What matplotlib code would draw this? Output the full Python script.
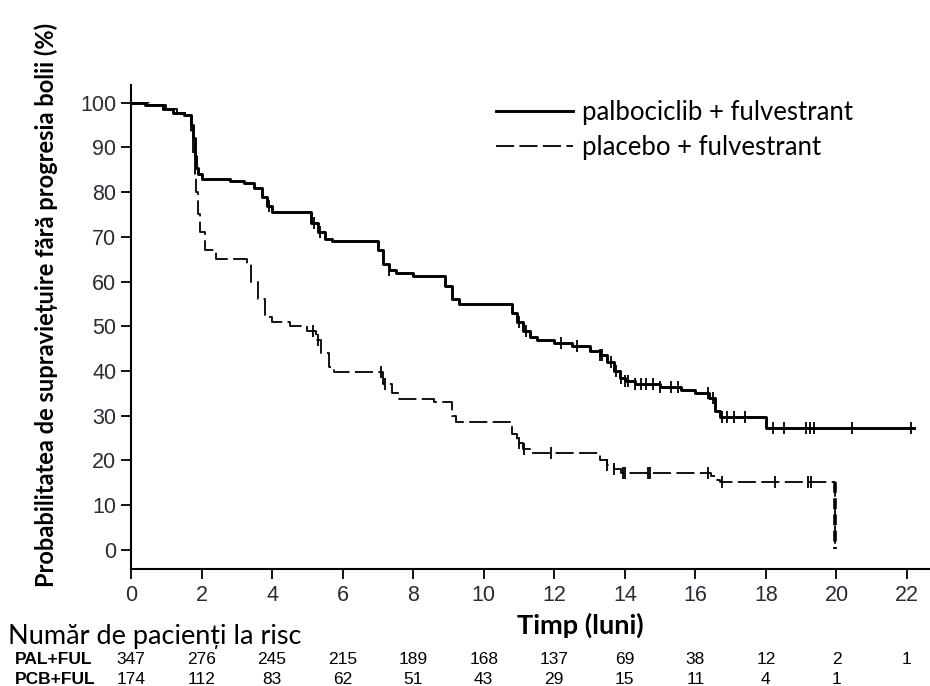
import numpy as np
import matplotlib
matplotlib.use('Agg')
import matplotlib.pyplot as plt

# Kaplan-Meier steps (months, % progression-free)
pal_t = [0, 0.4, 0.9, 1.2, 1.5, 1.7, 1.75, 1.8, 1.85, 1.9, 2.0, 2.8, 3.2, 3.5, 3.7, 3.85, 4.0,
         5.1, 5.3, 5.5, 5.7, 7.0, 7.15, 7.3, 7.5, 8.0, 8.9, 9.1, 9.3, 10.8, 10.95, 11.1, 11.3,
         11.5, 12.0, 12.5, 13.0, 13.3, 13.5, 13.7, 13.85, 14.0, 14.3, 15.0, 15.6, 16.0, 16.4,
         16.55, 16.7, 18.0, 22.2]
pal_s = [100, 99.5, 98.5, 97.8, 97.3, 95, 92, 88, 85.5, 84, 83, 82.5, 82, 81, 79, 77, 75.5,
         73, 71, 69.5, 69, 67, 64, 62.5, 62, 61.3, 59, 56, 55, 53, 51, 49, 47.5,
         47, 46.2, 45.5, 44.5, 43.5, 42, 40, 38.5, 37.8, 37.2, 36.5, 35.8, 35, 34,
         31, 29.7, 27.2, 27.2]

pcb_t = [0, 0.5, 1.0, 1.3, 1.6, 1.7, 1.75, 1.8, 1.85, 1.9, 1.95, 2.1, 2.4, 3.3, 3.4, 3.6, 3.8,
         4.0, 4.5, 5.0, 5.25, 5.4, 5.6, 5.75, 7.15, 7.4, 7.6, 8.6, 9.1, 9.2, 10.8, 10.95, 11.1,
         11.3, 13.3, 13.5, 13.7, 13.9, 16.45, 16.6, 16.7, 19.95]
pcb_s = [100, 99.5, 98.5, 97.8, 97.3, 93, 88, 84, 80, 75, 71, 67, 65, 64, 60, 56, 52,
         51, 50, 49, 47, 44, 41, 39.7, 37, 35, 33.8, 33, 30, 28.6, 26, 24, 22.5,
         21.6, 20, 19, 18, 17.3, 16.5, 15.7, 15.2, 0.3]

# censored observations
pal_cens = [3.9, 5.2, 5.35, 7.3, 11.0, 11.2, 12.2, 12.65, 13.3, 13.35, 13.6, 13.75, 13.9,
            14.0, 14.1, 14.3, 14.45, 14.6, 14.8, 15.0, 15.3, 15.5, 16.35, 16.5, 16.75, 16.9,
            17.1, 17.4, 18.2, 18.5, 19.15, 19.25, 19.35, 20.45, 22.1]
pcb_cens = [5.15, 5.3, 7.1, 7.2, 11.0, 11.15, 11.9, 13.5, 13.7, 13.95, 14.0, 14.65, 14.72,
            16.36, 16.75, 18.27, 19.2, 19.27]

risk_months = [0, 2, 4, 6, 8, 10, 12, 14, 16, 18, 20, 22]
pal_risk = [347, 276, 245, 215, 189, 168, 137, 69, 38, 12, 2, 1]
pcb_risk = [174, 112, 83, 62, 51, 43, 29, 15, 11, 4, 1, None]

txt_font = ['Lato', 'DejaVu Sans']
num_font = ['Liberation Sans', 'DejaVu Sans']


def step_at(t, s, x):
    i = np.searchsorted(t, x, side='right') - 1
    return np.array(s)[i]


fig = plt.figure(figsize=(9.3, 6.86), dpi=100)
ax = fig.add_axes([0.1409, 0.1706, 0.859, 0.7055])

ax.step(pal_t, pal_s, where='post', color='black', linewidth=2.1,
        label='palbociclib + fulvestrant')
ax.step(pcb_t, pcb_s, where='post', color='black', linewidth=1.3,
        linestyle=(0, (10, 3)), label='placebo + fulvestrant')
ax.plot(pal_cens, step_at(pal_t, pal_s, pal_cens), linestyle='none', marker='|',
        markersize=9, markeredgewidth=1.3, color='black')
ax.plot(pcb_cens, step_at(pcb_t, pcb_s, pcb_cens), linestyle='none', marker='|',
        markersize=9, markeredgewidth=1.3, color='black')
# final vertical drop of placebo arm drawn thicker
ax.plot([pcb_t[-1], pcb_t[-1]], [pcb_s[-2], pcb_s[-1]], color='black', linewidth=2.6,
        linestyle=(0, (3, 1.5)))

ax.set_xlim(0, 22.65)
ax.set_ylim(-4.25, 103.95)
ax.set_xticks(range(0, 23, 2))
ax.set_yticks(range(0, 101, 10))
for sp in ['top', 'right']:
    ax.spines[sp].set_visible(False)
for sp in ['left', 'bottom']:
    ax.spines[sp].set_linewidth(1.5)
ax.tick_params(direction='out', length=7.5, width=1.3, labelsize=15.5, colors='black',
               labelcolor='#2e2a33')
ax.tick_params(axis='x', pad=4)
ax.tick_params(axis='y', pad=3)
for lab in ax.get_xticklabels() + ax.get_yticklabels():
    lab.set_family(num_font)

fig.text(0.0495, 0.555, 'Probabilitatea de supraviețuire fără progresia bolii (%)',
         fontsize=17, fontweight='bold', family=txt_font, rotation=90,
         ha='center', va='center')

fig.text(0.6237, 0.089, 'Timp (luni)', fontsize=19.5, fontweight='bold', family=txt_font,
         ha='center', va='center')

leg = ax.legend(loc='upper left', bbox_to_anchor=(0.428, 1.016), frameon=False,
                handlelength=3.0, labelspacing=0.38, handletextpad=0.35,
                prop={'family': txt_font, 'size': 18.5})

fig.text(0.009, 0.0715, 'Număr de pacienți la risc', fontsize=19.5, family=txt_font,
         ha='left', va='center')
fig.text(0.016, 0.038, 'PAL+FUL', fontsize=12.5, fontweight='bold', family=num_font,
         ha='left', va='center')
fig.text(0.016, 0.009, 'PCB+FUL', fontsize=12.5, fontweight='bold', family=num_font,
         ha='left', va='center')
for m, n1, n2 in zip(risk_months, pal_risk, pcb_risk):
    x = ax.transData.transform((m, 0))[0] / fig.bbox.width
    fig.text(x, 0.038, str(n1), fontsize=12.5, family=num_font, ha='center', va='center')
    if n2 is not None:
        fig.text(x, 0.009, str(n2), fontsize=12.5, family=num_font, ha='center', va='center')

fig.savefig('out.png', dpi=100)
